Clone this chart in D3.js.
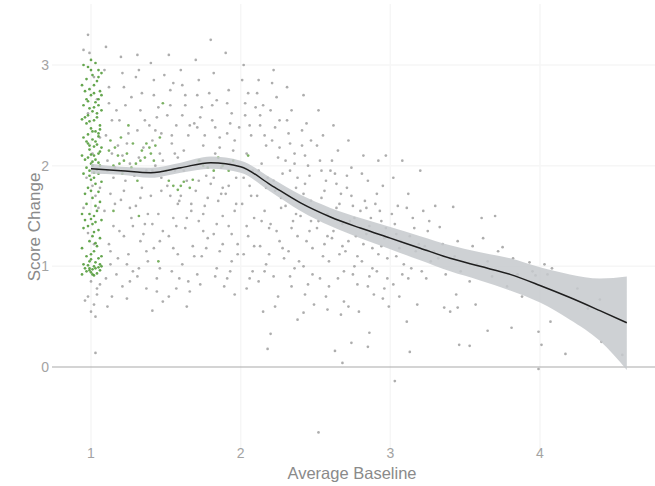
<!DOCTYPE html>
<html>
<head>
<meta charset="utf-8">
<script src="https://cdn.jsdelivr.net/npm/d3@7"></script>
<style>
  html, body { margin: 0; padding: 0; background: #fff; }
  svg { display: block; font-family: "Liberation Sans", Arial, sans-serif; }
</style>
</head>
<body>
<svg id="chart" width="655" height="486"></svg>
<script>
// Tick values on both axes
const xTicks = [1, 2, 3, 4];
const yTicks = [0, 1, 2, 3];

// Observations at baseline 1 (jittered column)
const columnGreen = [
  [1.00,3.05],[1.03,3.02],[0.98,2.98],[1.05,2.95],[1.01,2.90],[0.97,2.86],[1.04,2.84],[1.02,2.80],
  [0.99,2.76],[1.06,2.74],[1.00,2.70],[0.97,2.66],[1.03,2.63],[1.05,2.60],[0.99,2.57],[1.01,2.54],
  [0.98,2.50],[1.04,2.48],[1.02,2.45],[0.97,2.42],[1.06,2.40],[1.00,2.37],[1.03,2.34],[0.98,2.31],
  [1.05,2.29],[1.01,2.26],[0.97,2.24],[1.04,2.21],[1.02,2.19],[0.99,2.16],[1.06,2.14],[1.00,2.11],
  [0.98,2.08],[1.03,2.06],[1.05,2.03],[1.01,2.00],[0.97,1.98],[1.04,1.96],[1.02,1.93],[0.99,1.90],
  [1.00,1.86],[1.03,1.82],[0.98,1.78],[1.05,1.74],[1.01,1.68],[0.97,1.62],[1.04,1.55],[1.02,1.50],
  [1.00,1.47],[1.03,1.44],[0.98,1.40],[1.05,1.36],[1.01,1.30],[0.99,1.25],[1.04,1.20],[1.02,1.15],
  [0.97,1.10],[1.00,1.07],[1.03,1.04],[0.98,1.01],[1.05,0.99],[1.01,0.97],[0.97,0.95],[1.04,0.93],
  [1.02,0.91],[0.99,1.05],[1.06,1.02],[1.00,0.94],[1.02,2.72],[0.98,2.22],[1.04,2.52],[1.00,2.02],
  [1.03,1.23],[0.99,0.98],[1.05,2.88],[0.98,2.64],
  [0.95,3.00],[1.07,2.92],[0.94,2.80],[1.07,2.70],[0.95,2.60],[1.07,2.55],[0.94,2.46],[1.06,2.36],
  [0.95,2.28],[1.07,2.18],[0.94,2.10],[1.06,2.00],[0.95,1.92],[1.07,1.84],[0.96,1.72],[1.06,1.64],
  [0.94,1.52],[1.07,1.46],[0.95,1.38],[1.06,1.28],[0.94,1.18],[1.07,1.10],[0.95,1.02],[1.06,0.96],
  [0.94,0.92],[1.07,1.00],[1.00,2.95],[1.02,2.58],[0.99,2.44],[1.01,2.34],[1.03,2.24],[0.99,2.20],
  [1.02,2.10],[1.01,2.04],[0.99,1.95],[1.02,1.88],[1.00,1.75],[1.03,1.60],[0.99,1.52],[1.01,1.42],
  [1.02,1.34],[1.00,1.12],[1.02,1.00],[0.99,0.96],[1.01,0.92],[1.03,0.98],[0.96,2.48],[1.05,2.32],
  [0.96,2.06],[1.05,1.92],[0.96,1.46],[1.05,1.08],[0.96,0.98],[1.05,2.66],[0.96,2.74],[1.05,2.12]
];
const columnGray = [
  [0.99,3.12],[1.02,2.88],[1.04,2.66],[0.98,2.52],[1.06,2.28],[1.01,2.12],[0.97,1.88],[1.03,1.70],
  [1.05,1.58],[0.98,1.33],[1.02,1.22],[1.00,0.85],[1.04,0.78],[0.98,0.70],[1.02,0.62],[1.00,0.55],
  [1.03,0.50],[1.03,0.14],[1.04,0.72],[0.98,3.30],[1.01,1.80],[0.95,3.15],[1.06,1.78],[0.95,1.58],
  [1.06,0.82],[0.96,0.66]
];

// Observations spread across baseline values
const spreadGreen = [
  [1.13,2.25],[1.16,2.18],[1.20,2.28],[1.18,2.10],[1.22,2.05],[1.15,2.00],[1.27,1.98],[1.30,2.02],
  [1.34,2.15],[1.37,2.22],[1.40,2.12],[1.43,2.20],[1.36,2.08],[1.55,1.80],[1.58,1.76],[1.62,1.84],
  [1.66,1.78],[1.50,1.95],[1.72,2.05],[1.78,1.98],[1.85,2.08],[1.92,1.95],[1.45,1.05],[1.25,2.40],
  [1.48,2.62],[1.12,2.15],[1.19,2.02],[1.24,2.12],[1.28,2.22],[1.33,2.05],[1.39,2.18],[1.42,2.05],
  [1.46,2.28],[1.21,1.92],[1.31,1.85],[1.52,1.85],[1.60,1.80],[1.68,1.86],[1.75,2.00],[1.82,1.95],
  [1.88,2.00],[1.95,2.05],[2.05,2.10],[1.15,1.55],[1.32,1.50]
];
const spreadGray = [
  // 1.08 - 1.5
  [1.09,2.95],[1.12,2.62],[1.10,2.30],[1.14,2.12],[1.11,2.05],[1.16,1.98],[1.13,1.72],[1.09,1.55],
  [1.15,1.40],[1.12,1.22],[1.18,1.08],[1.10,0.88],[1.14,0.70],[1.20,3.08],[1.22,2.78],[1.19,2.45],
  [1.24,2.22],[1.21,2.10],[1.26,2.02],[1.23,1.85],[1.20,1.66],[1.27,1.48],[1.22,1.30],[1.25,1.12],
  [1.28,0.95],[1.21,0.80],[1.30,2.88],[1.33,2.55],[1.31,2.35],[1.35,2.18],[1.32,2.08],[1.37,1.95],
  [1.34,1.78],[1.30,1.60],[1.36,1.42],[1.33,1.25],[1.38,1.05],[1.31,0.90],[1.41,0.56],[1.40,3.02],
  [1.42,2.70],[1.44,2.48],[1.41,2.25],[1.46,2.12],[1.43,2.00],[1.47,1.88],[1.40,1.70],[1.45,1.52],
  [1.48,1.35],[1.42,1.18],[1.46,0.98],[1.44,0.75],[1.49,2.90],[1.17,2.55],[1.27,2.68],[1.39,2.40],
  [1.15,1.88],[1.29,1.90],[1.48,2.05],[1.26,1.58],[1.19,1.35],[1.37,1.15],[1.13,1.02],[1.24,0.68],
  [1.47,2.32],[1.32,2.95],[1.18,2.20],[1.41,1.95],
  [1.10,3.18],[1.12,2.78],[1.14,2.45],[1.11,1.95],[1.16,1.62],[1.13,1.15],[1.17,0.92],[1.11,0.60],
  [1.21,2.92],[1.23,2.60],[1.25,2.32],[1.22,1.75],[1.28,1.40],[1.24,1.02],[1.26,0.85],
  [1.31,3.10],[1.34,2.72],[1.36,2.45],[1.33,1.68],[1.38,1.52],[1.35,1.32],[1.32,0.98],[1.37,0.78],
  [1.42,2.85],[1.45,2.58],[1.43,2.35],[1.47,1.75],[1.41,1.42],[1.46,1.25],[1.44,0.88],[1.48,0.65],
  // 1.5 - 2.0
  [1.52,3.10],[1.55,2.82],[1.53,2.60],[1.57,2.40],[1.54,2.22],[1.58,2.08],[1.56,1.95],[1.51,1.80],
  [1.59,1.65],[1.55,1.48],[1.52,1.30],[1.58,1.12],[1.54,0.95],[1.57,0.78],[1.60,2.95],[1.63,2.70],
  [1.61,2.50],[1.65,2.30],[1.62,2.15],[1.66,2.00],[1.64,1.85],[1.60,1.70],[1.67,1.55],[1.63,1.38],
  [1.68,1.20],[1.61,1.02],[1.65,0.85],[1.70,3.05],[1.72,2.85],[1.74,2.58],[1.71,2.38],[1.75,2.20],
  [1.73,2.05],[1.77,1.90],[1.70,1.75],[1.76,1.60],[1.72,1.45],[1.78,1.28],[1.74,1.10],[1.71,0.92],
  [1.80,3.25],[1.82,2.92],[1.84,2.65],[1.81,2.45],[1.86,2.28],[1.83,2.12],[1.87,1.98],[1.80,1.82],
  [1.85,1.65],[1.88,1.50],[1.82,1.32],[1.86,1.15],[1.84,0.98],[1.89,0.80],[1.90,3.12],[1.92,2.75],
  [1.94,2.52],[1.91,2.32],[1.95,2.15],[1.93,2.02],[1.97,1.88],[1.90,1.72],[1.96,1.55],[1.92,1.40],
  [1.98,1.22],[1.94,1.05],[1.91,0.88],[1.96,0.72],[1.64,0.60],[1.53,2.75],[1.69,2.42],[1.79,2.72],
  [1.99,2.38],[1.58,1.62],[1.88,1.78],[1.75,1.35],
  [1.51,2.50],[1.54,2.30],[1.56,2.12],[1.53,1.70],[1.57,1.40],[1.55,1.18],[1.59,0.88],[1.52,0.70],
  [1.61,2.80],[1.63,2.60],[1.66,2.40],[1.62,1.95],[1.67,1.62],[1.64,1.48],[1.69,1.10],[1.66,0.75],
  [1.71,2.70],[1.73,2.48],[1.76,2.30],[1.72,1.85],[1.78,1.68],[1.75,1.52],[1.77,1.18],[1.73,0.82],
  [1.81,2.60],[1.83,2.38],[1.86,2.18],[1.82,1.88],[1.87,1.72],[1.84,1.42],[1.88,1.22],[1.83,0.90],
  [1.91,2.62],[1.93,2.42],[1.96,2.25],[1.92,1.80],[1.97,1.62],[1.94,1.32],[1.98,1.12],[1.93,0.95],
  // 2.0 - 2.5
  [2.02,3.00],[2.05,2.72],[2.03,2.50],[2.07,2.30],[2.04,2.12],[2.08,1.95],[2.06,1.80],[2.01,1.62],
  [2.09,1.48],[2.05,1.30],[2.02,1.12],[2.08,0.95],[2.04,0.78],[2.12,2.85],[2.15,2.60],[2.13,2.40],
  [2.17,2.20],[2.14,2.02],[2.18,1.88],[2.11,1.70],[2.16,1.55],[2.19,1.38],[2.13,1.20],[2.17,1.02],
  [2.12,0.85],[2.15,0.55],[2.22,2.95],[2.24,2.68],[2.26,2.45],[2.21,2.25],[2.25,2.08],[2.28,1.92],
  [2.23,1.75],[2.27,1.58],[2.20,1.42],[2.26,1.25],[2.29,1.08],[2.22,0.90],[2.25,0.70],[2.20,0.33],
  [2.18,0.18],[2.31,2.78],[2.34,2.55],[2.32,2.32],[2.36,2.12],[2.33,1.95],[2.37,1.78],[2.30,1.60],
  [2.35,1.45],[2.38,1.30],[2.32,1.15],[2.36,0.98],[2.34,0.80],[2.38,0.47],[2.42,0.54],[2.42,2.70],
  [2.44,2.42],[2.41,2.20],[2.45,2.00],[2.43,1.82],[2.47,1.65],[2.40,1.50],[2.46,1.35],[2.48,1.18],
  [2.42,1.00],[2.45,0.82],[2.49,0.62],[2.52,-0.65],[2.38,1.88],[2.20,2.55],[2.10,2.58],[2.30,2.05],
  [2.47,2.25],
  [2.01,2.85],[2.03,2.62],[2.06,2.40],[2.02,1.88],[2.07,1.70],[2.04,1.40],[2.09,1.20],[2.06,0.88],
  [2.11,2.72],[2.13,2.50],[2.16,2.30],[2.12,1.95],[2.17,1.78],[2.14,1.45],[2.19,1.12],[2.16,0.95],
  [2.21,2.82],[2.23,2.38],[2.26,2.18],[2.22,1.85],[2.27,1.68],[2.24,1.35],[2.28,1.18],[2.23,0.60],
  [2.31,2.45],[2.33,2.22],[2.36,2.02],[2.32,1.70],[2.37,1.52],[2.34,1.38],[2.39,1.05],[2.33,0.90],
  [2.41,2.35],[2.43,2.10],[2.46,1.90],[2.42,1.72],[2.47,1.45],[2.44,1.25],[2.48,0.92],[2.43,0.72],
  // 2.5 - 3.0
  [2.52,2.55],[2.55,2.30],[2.53,2.05],[2.57,1.85],[2.54,1.68],[2.58,1.52],[2.51,1.38],[2.56,1.22],
  [2.59,1.05],[2.53,0.88],[2.57,0.70],[2.58,0.57],[2.62,2.40],[2.65,2.15],[2.63,1.92],[2.67,1.72],
  [2.64,1.58],[2.68,1.42],[2.61,1.28],[2.66,1.12],[2.69,0.95],[2.63,0.16],[2.67,0.52],[2.72,2.25],
  [2.74,1.98],[2.71,1.78],[2.75,1.60],[2.73,1.45],[2.77,1.30],[2.70,1.15],[2.76,1.00],[2.78,0.82],
  [2.72,0.60],[2.74,0.24],[2.68,0.04],[2.82,2.10],[2.85,1.85],[2.83,1.65],[2.87,1.48],[2.84,1.32],
  [2.88,1.18],[2.81,1.05],[2.86,0.90],[2.89,0.72],[2.86,0.34],[2.85,0.20],[2.92,2.05],[2.95,1.80],
  [2.93,1.55],[2.97,1.38],[2.94,1.20],[2.98,1.08],[2.91,0.95],[2.96,0.78],[2.99,0.60],[2.97,2.10],
  [2.60,1.95],[2.80,1.55],[2.90,1.62],
  [2.51,2.20],[2.54,1.95],[2.56,1.75],[2.52,1.45],[2.58,1.30],[2.55,1.10],[2.59,0.80],
  [2.61,2.05],[2.64,1.82],[2.66,1.62],[2.62,1.35],[2.68,1.20],[2.65,0.88],[2.69,0.65],
  [2.71,1.90],[2.74,1.70],[2.76,1.48],[2.72,1.25],[2.78,1.10],[2.75,0.92],[2.79,0.55],
  [2.81,1.92],[2.84,1.58],[2.86,1.40],[2.82,1.22],[2.88,0.98],[2.85,0.80],
  [2.91,1.72],[2.94,1.45],[2.96,1.28],[2.92,1.12],[2.98,0.88],[2.95,0.68],
  // 3.0 - 3.5
  [3.02,1.88],[3.05,1.60],[3.03,1.42],[3.07,1.25],[3.04,1.10],[3.08,0.92],[3.06,0.70],[3.03,-0.14],
  [3.12,1.72],[3.15,1.48],[3.13,1.30],[3.17,1.15],[3.14,0.98],[3.18,0.62],[3.11,0.45],[3.13,0.15],
  [3.22,1.55],[3.25,1.35],[3.23,1.20],[3.27,1.05],[3.24,0.88],[3.36,0.59],[3.30,1.60],[3.33,1.39],
  [3.35,1.22],[3.32,1.08],[3.37,0.92],[3.45,0.59],[3.46,0.22],[3.42,1.59],[3.45,1.25],[3.43,1.10],
  [3.47,0.95],[3.44,0.72],[3.20,1.95],[3.08,2.05],[3.40,0.55],
  [3.01,1.52],[3.04,1.32],[3.06,1.18],[3.09,1.02],[3.02,0.82],
  [3.11,1.58],[3.16,1.38],[3.19,1.22],[3.12,0.88],[3.26,1.45],[3.29,1.15],[3.21,0.95],
  // 3.5 - 4.6
  [3.53,0.21],[3.55,1.20],[3.58,1.02],[3.53,0.85],[3.57,0.62],[3.61,1.48],[3.62,1.28],[3.65,1.05],
  [3.68,0.90],[3.65,0.36],[3.72,1.15],[3.75,1.19],[3.78,0.80],[3.81,0.39],[3.82,1.08],[3.85,0.92],
  [3.88,0.70],[3.93,1.04],[3.95,0.95],[3.97,0.91],[3.99,0.35],[4.01,0.22],[3.99,-0.02],[4.03,1.02],
  [4.08,0.98],[4.07,0.45],[4.17,0.13],[4.25,0.78],[4.32,0.58],[4.40,0.67],[4.41,0.25],[4.55,0.12],
  [4.05,0.92],[3.70,1.50]
];

// Smoothed fit with its confidence band
const fitX  = [1.0, 1.2, 1.4, 1.6, 1.8, 2.0, 2.2, 2.4, 2.6, 2.8, 3.0, 3.2, 3.4, 3.6, 3.8, 4.0, 4.2, 4.4, 4.58];
const fitY  = [1.97,1.95,1.93,1.98,2.03,1.99,1.81,1.63,1.49,1.38,1.28,1.18,1.08,1.00,0.92,0.81,0.69,0.56,0.44];
const fitLo = [1.92,1.91,1.88,1.93,1.97,1.93,1.74,1.55,1.40,1.28,1.17,1.06,0.95,0.86,0.76,0.64,0.47,0.26,-0.03];
const fitHi = [2.02,1.99,1.98,2.03,2.09,2.05,1.88,1.71,1.58,1.48,1.39,1.30,1.21,1.14,1.08,0.99,0.92,0.88,0.90];

const svg = d3.select("#chart");

const x = d3.scaleLinear().domain([1, 4]).range([91, 540]);
const y = d3.scaleLinear().domain([0, 3]).range([367, 65]);

// faint grid
const grid = svg.append("g");
grid.selectAll("line.vx").data(xTicks).join("line")
  .attr("x1", d => x(d)).attr("x2", d => x(d))
  .attr("y1", 4).attr("y2", 450)
  .attr("stroke", "#f6f6f6").attr("stroke-width", 1.5);
grid.selectAll("line.hy").data(yTicks.filter(d => d !== 0)).join("line")
  .attr("x1", 52).attr("x2", 655)
  .attr("y1", d => y(d)).attr("y2", d => y(d))
  .attr("stroke", "#f6f6f6").attr("stroke-width", 1.5);

// zero reference line
svg.append("line")
  .attr("x1", 52).attr("x2", 655)
  .attr("y1", y(0)).attr("y2", y(0))
  .attr("stroke", "#a9a9a9").attr("stroke-width", 1);

// points
const pts = svg.append("g");
const drawPts = (data, color, op) => {
  pts.append("g").selectAll("circle").data(data).join("circle")
    .attr("cx", d => x(d[0])).attr("cy", d => y(d[1]))
    .attr("r", 1.35)
    .attr("fill", color).attr("fill-opacity", op);
};
drawPts(spreadGray, "#929292", 0.75);
drawPts(columnGray, "#929292", 0.75);
drawPts(spreadGreen, "#5a9e3c", 0.8);
drawPts(columnGreen, "#4a9630", 0.85);

// confidence band and fitted curve
const fit = fitX.map((v, i) => ({x: v, y: fitY[i], lo: fitLo[i], hi: fitHi[i]}));
svg.append("path").datum(fit)
  .attr("d", d3.area().curve(d3.curveMonotoneX)
    .x(d => x(d.x)).y0(d => y(d.lo)).y1(d => y(d.hi)))
  .attr("fill", "#c6c9cd").attr("fill-opacity", 0.85);
svg.append("path").datum(fit)
  .attr("d", d3.line().curve(d3.curveMonotoneX).x(d => x(d.x)).y(d => y(d.y)))
  .attr("fill", "none").attr("stroke", "#1e1e1e").attr("stroke-width", 1.5);

// tick labels
svg.append("g").selectAll("text").data(xTicks).join("text")
  .attr("x", d => x(d)).attr("y", 458)
  .attr("text-anchor", "middle")
  .attr("font-size", 14).attr("fill", "#a3a3a3")
  .text(d => d);
svg.append("g").selectAll("text").data(yTicks).join("text")
  .attr("x", 49).attr("y", d => y(d) + 5)
  .attr("text-anchor", "end")
  .attr("font-size", 14).attr("fill", "#a3a3a3")
  .text(d => d);

// axis titles
svg.append("text")
  .attr("x", 352).attr("y", 479)
  .attr("text-anchor", "middle")
  .attr("font-size", 16.5).attr("fill", "#8a8a8a")
  .text("Average Baseline");
svg.append("text")
  .attr("transform", "translate(40,227) rotate(-90)")
  .attr("text-anchor", "middle")
  .attr("font-size", 17).attr("fill", "#8a8a8a")
  .text("Score Change");
</script>
</body>
</html>
